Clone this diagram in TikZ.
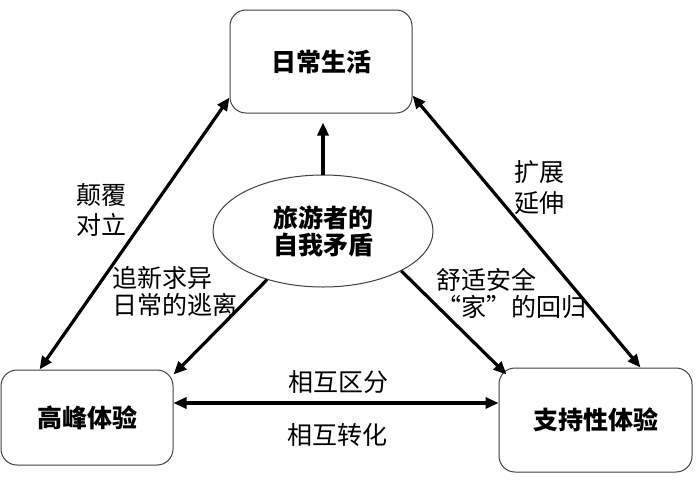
\documentclass[tikz,border=0pt]{standalone}
\usepackage{fontspec}
\setmainfont{Noto Sans CJK SC}
\usetikzlibrary{arrows.meta,shapes.geometric}
\begin{document}
\begin{tikzpicture}[x=1pt,y=-1pt,
  box/.style={draw=black!75, line width=1pt, rounded corners=16pt, inner sep=0pt,
    font=\fontsize{25}{28}\selectfont\bfseries},
  ell/.style={draw=black!75, line width=1pt, ellipse, inner sep=0pt, align=center,
    font=\fontsize{25}{27}\selectfont\bfseries},
  lab/.style={inner sep=0pt, anchor=west, align=left},
  arr/.style={line width=3.2pt, -{Triangle[length=13pt,width=11pt]}},
  darr/.style={line width=3.2pt, {Triangle[length=13pt,width=11pt]}-{Triangle[length=13pt,width=11pt]}}
]
\useasboundingbox (0,0) rectangle (700,480);
\fill[white] (0,0) rectangle (700,480);

\node[box, minimum width=182pt, minimum height=103pt] (top) at (321,61.5) {日常生活};
\node[box, minimum width=172pt, minimum height=95pt] (left) at (87,417.5) {高峰体验};
\node[box, minimum width=193pt, minimum height=104pt] (right) at (595.5,420) {支持性体验};
\node[ell, minimum width=220pt, minimum height=112pt] (ell) at (323,231) {旅游者的\\自我矛盾};

\draw[darr] ([yshift=16pt]top.south west) -- ([xshift=39pt]left.north west);
\draw[darr] ([yshift=18pt]top.south east) -- ([xshift=-52pt]right.north east);
\draw[arr] (ell.north) -- ([yshift=-9pt]ell.north |- top.south);
\draw[arr] (ell.221) -- ([yshift=-5pt]left.north east);
\draw[arr] (ell.333) -- ([xshift=8pt,yshift=-7pt]right.north west);
\coordinate (hl) at ([yshift=14.5pt]left.east);
\draw[darr] (hl) -- (hl -| right.west);

\node[lab, font=\fontsize{25}{30}\selectfont] (l1) at (76,210) {颠覆\\对立};
\node[lab, font=\fontsize{25}{31}\selectfont] (l2) at (514,187.5) {扩展\\延伸};
\node[lab, font=\fontsize{25}{27}\selectfont] (l3) at (112,291.5) {追新求异\\日常的逃离};
\node[lab, font=\fontsize{25}{27}\selectfont] (l4) at (436,293.5) {舒适安全\\\makebox[25pt][r]{“}家\makebox[25pt][l]{”}的回归};
\node[inner sep=0pt, font=\fontsize{25}{28}\selectfont] (l5) at (338,382) {相互区分};
\node[inner sep=0pt, font=\fontsize{25}{28}\selectfont] (l6) at (337,435) {相互转化};
\end{tikzpicture}
\end{document}
